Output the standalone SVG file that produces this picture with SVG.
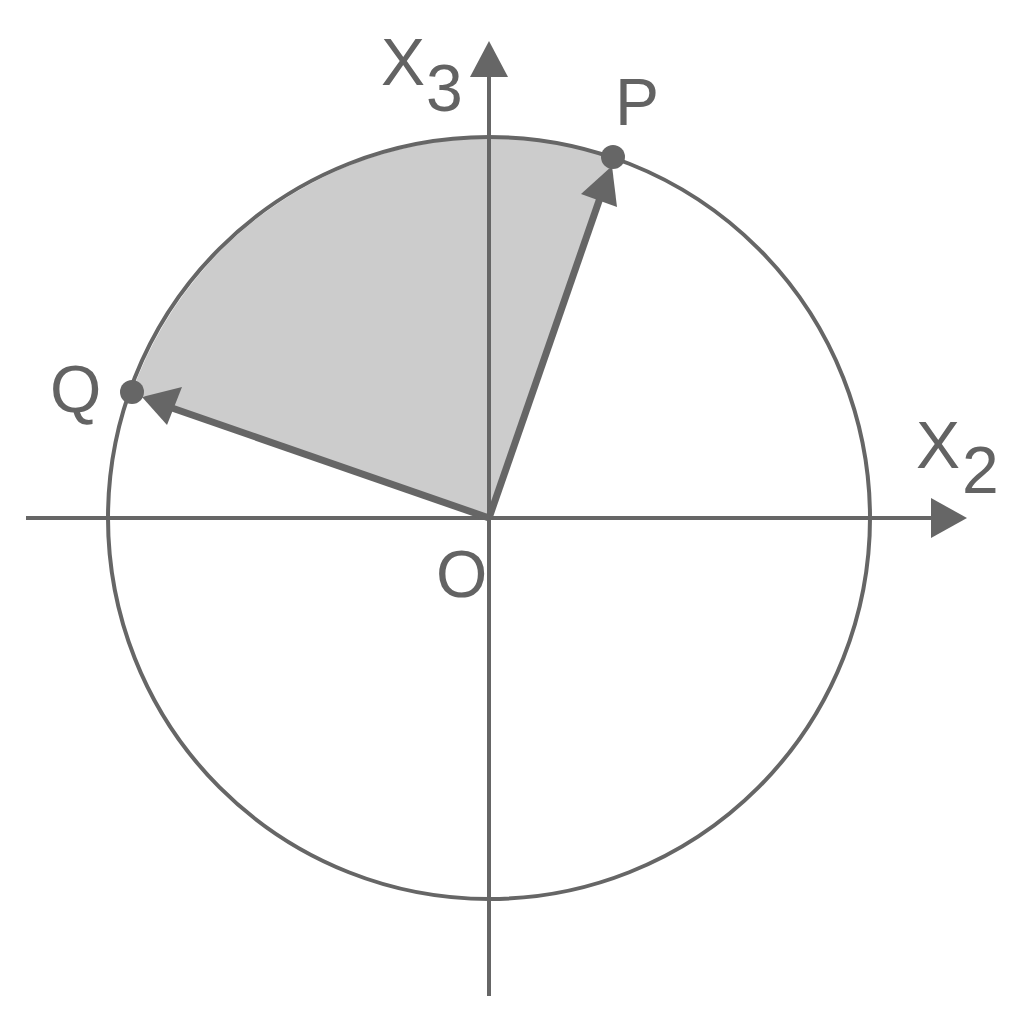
<svg xmlns="http://www.w3.org/2000/svg" width="1022" height="1024" viewBox="0 0 1022 1024">
<defs>
<style>
.ax{stroke:#666;stroke-width:4;fill:none}
.vec{stroke:#666;stroke-width:7;fill:none}
.head{fill:#666}
.lbl{font-family:"Liberation Sans",Arial,sans-serif;font-size:66px;fill:#636363}
</style>
</defs>
<rect width="1022" height="1024" fill="#fff"/>
<g id="sector">
<path d="M489 518 L613 158 A381 381 0 0 0 132 392 Z" fill="#cccccc"/>
</g>
<g id="circle">
<circle cx="489" cy="518" r="381" class="ax"/>
</g>
<g id="connectors">
<line x1="26" y1="518" x2="935" y2="518" class="ax"/>
<polygon points="967,518 931,498 931,538" class="head"/>
<line x1="489" y1="996" x2="489" y2="74" class="ax"/>
<polygon points="489,41 470,77 508,77" class="head"/>
<line x1="489" y1="518" x2="600" y2="198" class="vec"/>
<polygon points="612,166 581,194 617,207" class="head"/>
<line x1="489" y1="518" x2="172" y2="408" class="vec"/>
<polygon points="142,397 182,387 167,425" class="head"/>
</g>
<g id="P">
<circle cx="613" cy="157" r="12" fill="#666"/>
<text x="615" y="125" class="lbl">P</text>
</g>
<g id="Q">
<circle cx="132" cy="392" r="12" fill="#666"/>
<text x="50" y="412" class="lbl">Q</text>
</g>
<g id="O">
<text x="436" y="597" class="lbl">O</text>
</g>
<g id="X3">
<text x="381" y="85" class="lbl">X</text>
<text x="426" y="111" class="lbl">3</text>
</g>
<g id="X2">
<text x="916" y="468" class="lbl">X</text>
<text x="962" y="493" class="lbl">2</text>
</g>
</svg>
